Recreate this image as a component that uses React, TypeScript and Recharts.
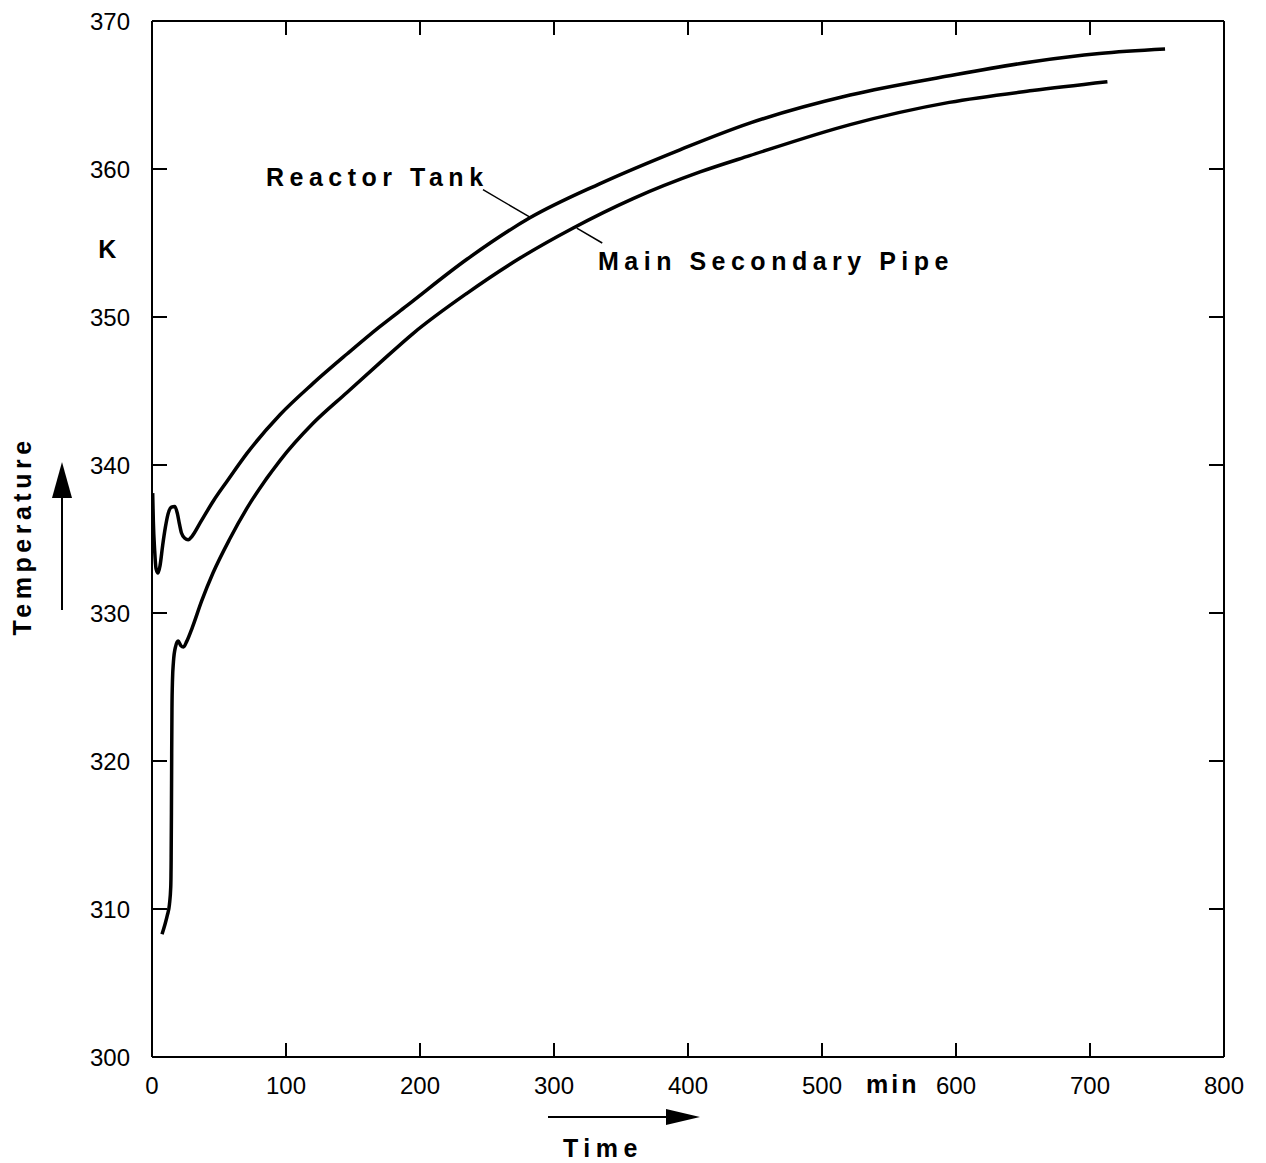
import { LineChart, Line, XAxis, YAxis, ReferenceLine } from 'recharts'

// time (min) and temperature (K)
const tankTime = [0.5, 1, 2, 3, 4.5, 6, 8, 10, 12, 14.5, 17, 19, 20.5, 22, 24.5, 27, 30, 36, 46, 56, 71, 95.5, 120, 145.5, 170, 190, 235, 282, 334, 394, 446, 521, 595, 657, 707, 756]
const tankTemp = [338.1, 336.2, 334.2, 333.0, 332.7, 333.2, 334.6, 335.8, 336.7, 337.15, 337.2, 336.7, 336.0, 335.4, 335.05, 334.95, 335.2, 336.1, 337.6, 338.9, 340.8, 343.4, 345.5, 347.5, 349.35, 350.75, 353.9, 356.7, 359.0, 361.3, 363.1, 365.0, 366.3, 367.25, 367.8, 368.1]

const pipeTime = [7.5, 9.5, 11.5, 13, 14, 14.3, 14.5, 14.7, 14.9, 15.3, 16, 17.5, 19.5, 21.5, 23.5, 26, 30, 37, 45.5, 58, 71, 95.5, 120, 145.5, 170, 195, 235, 275, 314, 359, 409, 446, 521, 595, 657, 713]
const pipeTemp = [308.3, 308.9, 309.6, 310.3, 311.5, 313.5, 316.5, 320.5, 323.5, 325.5, 326.7, 327.7, 328.1, 327.8, 327.7, 328.1, 329.0, 330.8, 332.7, 335.0, 337.1, 340.3, 342.8, 344.9, 346.9, 348.9, 351.6, 354.0, 356.0, 358.0, 359.8, 360.9, 363.0, 364.5, 365.3, 365.9]

const xTicks = [0, 100, 200, 300, 400, 500, 600, 700, 800]
const innerXTicks = [100, 200, 300, 400, 500, 600, 700]
const yTicks = [300, 310, 320, 330, 340, 350, 360, 370]
const innerYTicks = [310, 320, 330, 340, 350, 360]

// leader lines from the labels to the curves
const tankLeader = [{ x: 247, y: 358.6 }, { x: 282, y: 356.75 }]
const pipeLeader = [{ x: 317, y: 356.0 }, { x: 336, y: 355.0 }]

const tankData = tankTime.map((t, i) => ({ t, temp: tankTemp[i] }))
const pipeData = pipeTime.map((t, i) => ({ t, temp: pipeTemp[i] }))

const font = '"Liberation Sans", Arial, sans-serif'
const tickStyle = { fill: '#000', fontSize: 24, fontFamily: font }
const labelStyle = { fontFamily: font, fontSize: 25, fontWeight: 700, letterSpacing: 5.5, fill: '#000' }
const axisLine = { stroke: '#000', strokeWidth: 2 }
const NoLabel = () => <g />

export default function App() {
  return (
    <div style={{ position: 'absolute', left: 0, top: 0, width: 1266, height: 1163, background: '#fff' }}>
      <LineChart width={1266} height={1163} margin={{ top: 11, right: 32, bottom: 56, left: 92 }}>
        <XAxis
          xAxisId="bottom"
          dataKey="t"
          type="number"
          domain={[0, 800]}
          ticks={xTicks}
          allowDataOverflow
          height={50}
          tickSize={-14}
          tickMargin={34}
          tick={tickStyle}
          axisLine={axisLine}
          tickLine={axisLine}
        />
        {/* top and right axes share the same scales, they only carry inward ticks */}
        <XAxis
          xAxisId="top"
          orientation="top"
          dataKey="t"
          type="number"
          domain={[0, 800]}
          ticks={innerXTicks}
          allowDataOverflow
          interval={0}
          height={10}
          tickSize={-14}
          tick={<NoLabel />}
          axisLine={axisLine}
          tickLine={axisLine}
        />
        <YAxis
          yAxisId="left"
          type="number"
          domain={[300, 370]}
          ticks={yTicks}
          allowDataOverflow
          width={60}
          tickSize={-15}
          tickMargin={37}
          tick={tickStyle}
          axisLine={axisLine}
          tickLine={axisLine}
        />
        <YAxis
          yAxisId="right"
          orientation="right"
          type="number"
          domain={[300, 370]}
          ticks={innerYTicks}
          allowDataOverflow
          interval={0}
          width={10}
          tickSize={-15}
          tick={<NoLabel />}
          axisLine={axisLine}
          tickLine={axisLine}
        />
        <Line
          xAxisId="bottom"
          yAxisId="left"
          data={tankData}
          dataKey="temp"
          type="monotone"
          stroke="#000"
          strokeWidth={3.5}
          dot={false}
          isAnimationActive={false}
        />
        <Line
          xAxisId="top"
          yAxisId="right"
          data={pipeData}
          dataKey="temp"
          type="monotone"
          stroke="#000"
          strokeWidth={3.5}
          dot={false}
          isAnimationActive={false}
        />
        <ReferenceLine xAxisId="bottom" yAxisId="left" segment={tankLeader} stroke="#000" strokeWidth={1.5} />
        <ReferenceLine xAxisId="bottom" yAxisId="left" segment={pipeLeader} stroke="#000" strokeWidth={1.5} />
      </LineChart>
      <svg width={1266} height={1163} style={{ position: 'absolute', left: 0, top: 0, pointerEvents: 'none' }}>
        <text x={266} y={186} style={labelStyle}>Reactor Tank</text>
        <text x={598} y={270} style={labelStyle}>Main Secondary Pipe</text>
        <text x={110} y={258} textAnchor="middle" style={labelStyle}>K</text>
        <text transform="translate(31,536) rotate(-90)" textAnchor="middle" style={{ ...labelStyle, letterSpacing: 4.5 }}>Temperature</text>
        <line x1={62} y1={610} x2={62} y2={494} stroke="#000" strokeWidth={2} />
        <polygon points="62,462 52,498 72,498" fill="#000" />
        <text x={866} y={1093} style={{ ...labelStyle, letterSpacing: 3 }}>min</text>
        <text x={603} y={1157} textAnchor="middle" style={labelStyle}>Time</text>
        <line x1={548} y1={1117} x2={670} y2={1117} stroke="#000" strokeWidth={2} />
        <polygon points="700,1117 666,1109 666,1125" fill="#000" />
      </svg>
    </div>
  )
}
